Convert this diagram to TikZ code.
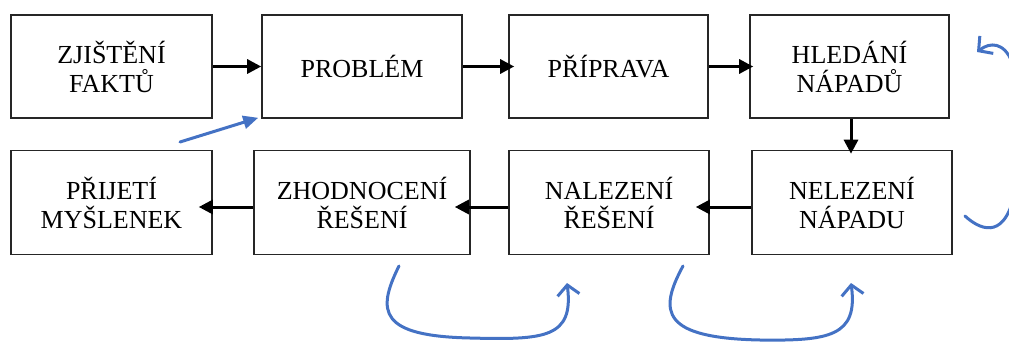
\documentclass[tikz,border=0pt]{standalone}
\usepackage{fontspec}
\setmainfont{Liberation Serif}
\usetikzlibrary{arrows.meta}
\definecolor{blu}{HTML}{4472C4}
\tikzset{
  box/.style={draw=black!85, line width=1.6pt, align=center, inner sep=0pt,
    font=\fontsize{26}{29}\selectfont},
  arr/.style={line width=3pt, -{Triangle[length=14pt,width=14pt]}},
  bl/.style={draw=blu, line width=3pt, line cap=round, line join=round},
  blarr/.style={bl, -{Straight Barb[length=10pt,width=22pt,line width=3pt]}},
}
\begin{document}
\begin{tikzpicture}[x=1pt,y=-1pt]
\useasboundingbox (0,0) rectangle (1009,342);
\clip (0,0) rectangle (1009,342);
% top row
\node[box, minimum width=201pt, minimum height=103pt] (b1) at (111.5,66.5) {ZJIŠTĚNÍ\\FAKTŮ};
\node[box, minimum width=200pt, minimum height=103pt] (b2) at (362,66.5) {PROBLÉM};
\node[box, minimum width=199pt, minimum height=103pt] (b3) at (608.5,66.5) {PŘÍPRAVA};
\node[box, minimum width=199pt, minimum height=103pt] (b4) at (849.5,66.5) {HLEDÁNÍ\\NÁPADŮ};
% bottom row
\node[box, minimum width=201pt, minimum height=104pt] (c1) at (111.5,202.5) {PŘIJETÍ\\MYŠLENEK};
\node[box, minimum width=216pt, minimum height=104pt] (c2) at (362,202.5) {ZHODNOCENÍ\\ŘEŠENÍ};
\node[box, minimum width=200pt, minimum height=104pt] (c3) at (609,202.5) {NALEZENÍ\\ŘEŠENÍ};
\node[box, minimum width=200pt, minimum height=104pt] (c4) at (852,202.5) {NELEZENÍ\\NÁPADU};
% black connectors
\draw[arr] (b1.east) -- (b2.west);
\draw[arr, shorten >=-6pt] (b2.east) -- (b3.west);
\draw[arr, shorten >=-4pt] (b3.east) -- (b4.west);
\draw[arr, shorten >=-4pt] (b4.south -| 851,0) -- (c4.north -| 851,0);
\draw[arr, shorten >=-14pt] ([yshift=-4.5pt]c4.west) -- ([yshift=-4.5pt]c3.east);
\draw[arr, shorten >=-16pt] ([yshift=-4.5pt]c3.west) -- ([yshift=-4.5pt]c2.east);
\draw[arr, shorten >=-14pt] ([yshift=-4.5pt]c2.west) -- ([yshift=-4.5pt]c1.east);
% blue strokes
\coordinate (p1) at (180,142);
\draw[bl, -{Triangle[length=15pt,width=13pt]}] (p1) -- ([xshift=-3pt,yshift=1pt]b2.south west);
\coordinate (p2) at (1012,62);
\coordinate (t2) at (977,52);
\draw[blarr] (p2) .. controls (1004,42) and (990,42) .. (t2);
\coordinate (p3) at (965,216);
\coordinate (t3) at (1014,196);
\draw[bl] (p3) .. controls (978,228) and (1003,242) .. (t3);
\coordinate (p4) at (399,266);
\coordinate (t4) at (567,283);
\draw[blarr] (p4) .. controls (376,312) and (380,336) .. (470,338)
  .. controls (545,340) and (574,338) .. (t4);
\coordinate (p5) at (683,266);
\coordinate (t5) at (851,283);
\draw[blarr] (p5) .. controls (658,312) and (662,338) .. (760,340)
  .. controls (830,341) and (858,336) .. (t5);
\end{tikzpicture}
\end{document}
